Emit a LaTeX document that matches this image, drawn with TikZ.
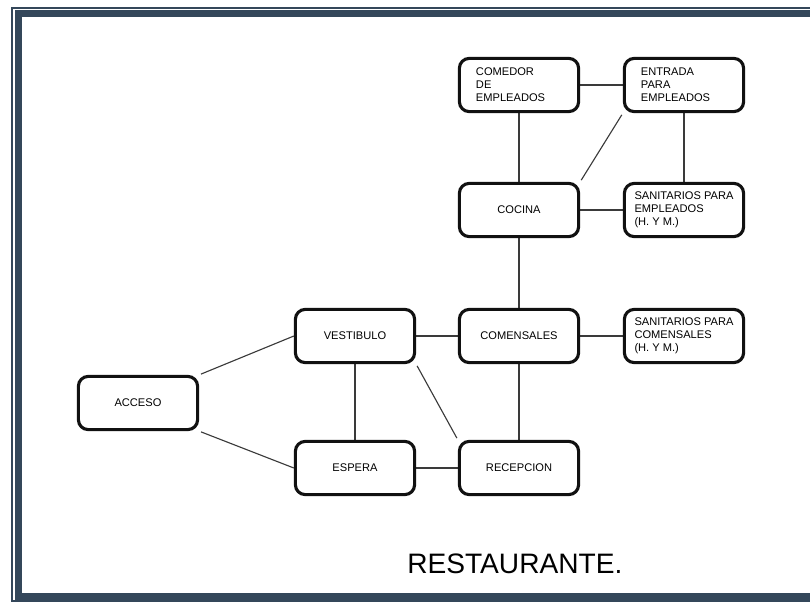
\documentclass[tikz,border=0pt]{standalone}
\usepackage{fontspec}
\setmainfont{Liberation Sans}
\usepackage{tikz}
\usetikzlibrary{backgrounds}
\definecolor{my_frame}{HTML}{34475A}
\definecolor{my_line}{HTML}{3A3A3A}
\definecolor{my_box}{HTML}{111111}

\begin{document}
\begin{tikzpicture}[
    x=0.025cm, y=-0.025cm,  % 1 unit = 1 pixel of the 810x601 sheet
    room/.style={draw=my_box, fill=white, line width=2.2pt, rounded corners=7pt,
        minimum width=2.98cm, minimum height=1.33cm, align=left,
        font=\fontsize{7.9}{9.2}\selectfont, inner sep=2pt},
    roomlist/.style={room, text width=2.15cm},
    link/.style={draw=my_line, line width=0.8pt},
    fromcorner/.style={link, shorten <=1.4pt},
    cornerlink/.style={link, shorten <=1.4pt, shorten >=1.4pt},
]

% ── Sheet and frame ──────────────────────────────────────────────────────────
\useasboundingbox (0,0) rectangle (810,601);
\draw[my_frame, line width=1.1pt] (12,8) rectangle (900,601);
\draw[my_frame, line width=4.8pt] (18.5,13.5) rectangle (900,596.5);

% ── Staff area ───────────────────────────────────────────────────────────────
\node[roomlist] (comedor) at (519,85)  {COMEDOR\\DE\\EMPLEADOS};
\node[roomlist] (entrada) at (684,85)  {ENTRADA\\PARA\\EMPLEADOS};
\node[room]     (cocina)  at (519,210) {COCINA};
\node[room]     (sanemp)  at (684,210) {SANITARIOS PARA\\EMPLEADOS\\(H. Y M.)};

% ── Guest area ───────────────────────────────────────────────────────────────
\node[room] (comensales) at (519,336) {COMENSALES};
\node[room] (sancom)     at (684,336) {SANITARIOS PARA\\COMENSALES\\(H. Y M.)};
\node[room] (vestibulo)  at (355,336) {VESTIBULO};
\node[room] (acceso)     at (138,403) {ACCESO};
\node[room] (espera)     at (355,468) {ESPERA};
\node[room] (recepcion)  at (519,468) {RECEPCION};

% ── Title ────────────────────────────────────────────────────────────────────
\node[anchor=base west, inner sep=0pt, font=\fontsize{20}{24}\selectfont]
    (titulo) at (407,573) {RESTAURANTE.};

% ── Connections (behind the boxes) ───────────────────────────────────────────
\begin{scope}[on background layer]
\draw[link] (comedor.east) -- (entrada.west);
\draw[link] (comedor.south) -- (cocina.north);
\draw[link] (entrada.south) -- (sanemp.north);
\draw[cornerlink] (entrada.south west) -- (cocina.north east);
\draw[link] (cocina.east) -- (sanemp.west);
\draw[link] (cocina.south) -- (comensales.north);
\draw[link] (comensales.east) -- (sancom.west);
\draw[link] (vestibulo.east) -- (comensales.west);
\draw[fromcorner] (acceso.north east) -- (vestibulo.west);
\draw[fromcorner] (acceso.south east) -- (espera.west);
\draw[link] (vestibulo.south) -- (espera.north);
\draw[cornerlink] (vestibulo.south east) -- (recepcion.north west);
\draw[link] (espera.east) -- (recepcion.west);
\draw[link] (comensales.south) -- (recepcion.north);
\end{scope}

\end{tikzpicture}
\end{document}
